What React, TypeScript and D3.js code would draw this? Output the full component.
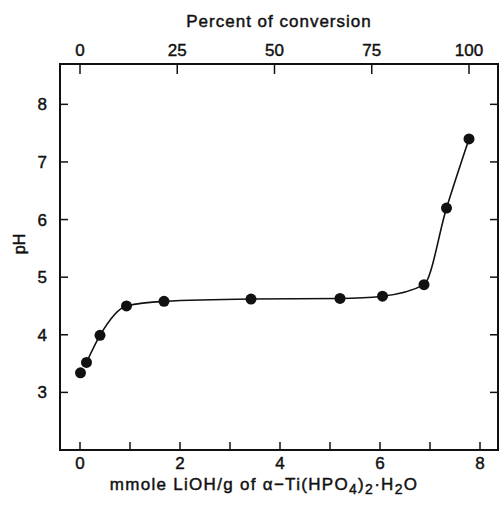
import React from "react";
import * as d3 from "d3";

const mmol: number[] = [0.01, 0.13, 0.4, 0.93, 1.68, 3.42, 5.2, 6.05, 6.88, 7.33, 7.78];
const pH: number[] = [3.34, 3.52, 3.99, 4.5, 4.58, 4.62, 4.63, 4.67, 4.87, 6.2, 7.4];
const bottomTicks: number[] = [0, 1, 2, 3, 4, 5, 6, 7, 8];
const bottomLabels: number[] = [0, 2, 4, 6, 8];
const leftTicks: number[] = [3, 4, 5, 6, 7, 8];
const topTicks: number[] = [0, 25, 50, 75, 100];
const fullConversion = 7.78;

const W = 499;
const H = 505;
const L = 60, R = 498, T = 64, B = 450;
const FONT = "'Liberation Sans', Arial, Helvetica, sans-serif";
const INK = "#111";

export default function App() {
  const x = d3.scaleLinear().domain([-0.4, 8.36]).range([L, R]);
  const y = d3.scaleLinear().domain([2, 8.7]).range([B, T]);
  const pct = d3.scaleLinear().domain([0, 100]).range([x(0), x(fullConversion)]);
  const pts = mmol.map((m, i) => [m, pH[i]] as [number, number]);
  const line = d3
    .line<[number, number]>()
    .x((d) => x(d[0]))
    .y((d) => y(d[1]))
    .curve(d3.curveMonotoneX);
  const tl = 8;
  const txt = { fill: INK, stroke: INK, strokeWidth: 0.45 };
  return (
    <svg
      width={W}
      height={H}
      style={{ position: "absolute", left: 0, top: 0, background: "#fff" }}
      fontFamily={FONT}
    >
      <rect x={0} y={0} width={W} height={H} fill="#fff" />
      {/* frame */}
      <rect x={L} y={T} width={R - L} height={B - T} fill="none" stroke={INK} strokeWidth={2} />
      {/* bottom ticks */}
      {bottomTicks.map((t) => (
        <line key={"b" + t} x1={x(t)} x2={x(t)} y1={B} y2={B - tl} stroke={INK} strokeWidth={1.5} />
      ))}
      {bottomLabels.map((t) => (
        <text key={"bl" + t} x={x(t)} y={469} textAnchor="middle" fontSize={17} {...txt}>
          {t}
        </text>
      ))}
      {/* left/right ticks */}
      {leftTicks.map((t) => (
        <g key={"l" + t}>
          <line x1={L} x2={L + tl} y1={y(t)} y2={y(t)} stroke={INK} strokeWidth={1.5} />
          <line x1={R} x2={R - tl} y1={y(t)} y2={y(t)} stroke={INK} strokeWidth={1.5} />
          <text x={47} y={y(t) + 6} textAnchor="end" fontSize={17} {...txt}>
            {t}
          </text>
        </g>
      ))}
      {/* top ticks */}
      {topTicks.map((t) => (
        <g key={"t" + t}>
          <line x1={pct(t)} x2={pct(t)} y1={T} y2={T + tl + 2} stroke={INK} strokeWidth={1.5} />
          <text x={pct(t)} y={56} textAnchor="middle" fontSize={17} {...txt}>
            {t}
          </text>
        </g>
      ))}
      <text x={279} y={27} textAnchor="middle" fontSize={17} letterSpacing={1} {...txt}>
        Percent of conversion
      </text>
      <text
        transform={`translate(${25},${244}) rotate(-90)`}
        textAnchor="middle"
        fontSize={16}
        {...txt}
      >
        pH
      </text>
      <text x={264} y={490} textAnchor="middle" fontSize={17} letterSpacing={1.3} {...txt}>
        mmole LiOH/g of α−Ti(HPO
        <tspan dy={4} fontSize={14}>4</tspan>
        <tspan dy={-4}>)</tspan>
        <tspan dy={4} fontSize={14}>2</tspan>
        <tspan dy={-4}>·H</tspan>
        <tspan dy={4} fontSize={14}>2</tspan>
        <tspan dy={-4}>O</tspan>
      </text>
      {/* curve */}
      <path d={line(pts.slice(1)) || ""} fill="none" stroke={INK} strokeWidth={1.6} />
      {pts.map((d, i) => (
        <circle key={"p" + i} cx={x(d[0])} cy={y(d[1])} r={5.5} fill={INK} />
      ))}
    </svg>
  );
}
